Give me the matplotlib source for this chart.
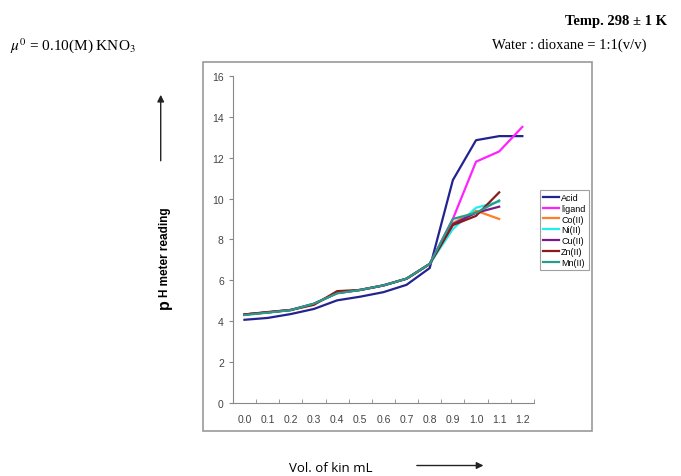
import matplotlib
matplotlib.use("Agg")
from matplotlib import pyplot as plt
from matplotlib.patches import Rectangle

plt.rcParams["font.family"] = ["Liberation Sans", "DejaVu Sans"]
plt.rcParams["mathtext.fontset"] = "stix"

vol = ["0.0", "0.1", "0.2", "0.3", "0.4", "0.5", "0.6", "0.7", "0.8", "0.9", "1.0", "1.1", "1.2"]

acid = [4.07, 4.16, 4.35, 4.6, 5.02, 5.2, 5.42, 5.78, 6.6, 10.9, 12.85, 13.05, 13.05]
ligand = [4.33, 4.43, 4.55, 4.85, 5.38, 5.53, 5.75, 6.08, 6.8, 9.0, 11.8, 12.3, 13.5]
co = [4.33, 4.43, 4.55, 4.85, 5.38, 5.53, 5.75, 6.08, 6.8, 8.8, 9.4, 9.0]
ni = [4.33, 4.43, 4.55, 4.85, 5.38, 5.53, 5.75, 6.08, 6.8, 8.5, 9.55, 9.85]
cu = [4.33, 4.43, 4.55, 4.85, 5.38, 5.53, 5.75, 6.08, 6.8, 8.75, 9.3, 9.6]
zn = [4.33, 4.45, 4.55, 4.8, 5.47, 5.53, 5.75, 6.08, 6.8, 8.7, 9.15, 10.3]
mn = [4.3, 4.42, 4.54, 4.86, 5.36, 5.53, 5.75, 6.08, 6.8, 9.0, 9.3, 9.9]

series = [("Acid", acid, "#232390"),
          ("ligand", ligand, "#ff22ff"),
          ("Co(II)", co, "#ff7f27"),
          ("Ni(II)", ni, "#22eeee"),
          ("Cu(II)", cu, "#7a1a8a"),
          ("Zn(II)", zn, "#8b1a1a"),
          ("Mn(II)", mn, "#2a9a8a")]

fig = plt.figure(figsize=(6.81, 4.77), dpi=100)
fig.patches.append(Rectangle((0.298, 0.094), 0.571, 0.774, transform=fig.transFigure,
                             fill=False, edgecolor="#999999", lw=1.2))

ax = fig.add_axes([0.342, 0.153, 0.442, 0.686])
x = list(range(len(vol)))
for name, vals, col in series:
    ax.plot(x[:len(vals)], vals, color=col, lw=1.6, label=name)

ax.set_xlim(-0.5, len(vol) - 0.5)
ax.set_ylim(0, 16)
ax.set_yticks(range(0, 17, 2))
ax.set_xticks(x)
ax.set_xticklabels(vol)
ax.set_xticks([i - 0.5 for i in range(len(vol) + 1)], minor=True)
ax.tick_params(axis="x", which="major", length=0, pad=8)
ax.tick_params(axis="x", which="minor", length=3, direction="in", color="#888888")
ax.tick_params(axis="y", length=3, color="#888888")
ax.tick_params(labelsize=7.5, labelcolor="#444444")
for s in ["top", "right"]:
    ax.spines[s].set_visible(False)
for s in ["left", "bottom"]:
    ax.spines[s].set_color("#888888")

leg = ax.legend(loc="upper left", bbox_to_anchor=(0.793, 0.600), bbox_transform=fig.transFigure,
                fontsize=6.5, frameon=True, fancybox=False, handlelength=1.8, handletextpad=0.2,
                labelspacing=0.2, borderpad=0.35, borderaxespad=0)
leg.get_frame().set_edgecolor("#888888")
leg.get_frame().set_linewidth(0.8)

fig.text(0.015, 0.905, r"$\mu^0$ = 0.10(M) KNO$_3$", fontsize=11, family="Liberation Serif",
         va="center")
fig.text(0.98, 0.955, "Temp. 298 ± 1 K", fontsize=10.5, family="Liberation Serif",
         fontweight="bold", ha="right", va="center")
fig.text(0.95, 0.905, "Water : dioxane = 1:1(v/v)", fontsize=10.5, family="Liberation Serif",
         ha="right", va="center")

fig.text(0.241, 0.352, "p", fontsize=11.5, fontweight="bold", rotation=90, ha="center", va="bottom")
fig.text(0.243, 0.377, "H meter reading", fontsize=8.5, fontweight="bold", rotation=90,
         ha="center", va="bottom")
ax.annotate("", xy=(0.236, 0.805), xytext=(0.236, 0.655), xycoords="figure fraction",
            textcoords="figure fraction",
            arrowprops=dict(arrowstyle="-|>", color="#222222", lw=1, mutation_scale=10))

fig.text(0.425, 0.018, "Vol. of kin mL", fontsize=9.5, family="Open Sans", va="center")
ax.annotate("", xy=(0.714, 0.022), xytext=(0.608, 0.022), xycoords="figure fraction",
            textcoords="figure fraction",
            arrowprops=dict(arrowstyle="-|>", color="#222222", lw=1, mutation_scale=10))

fig.savefig("out.png", dpi=100)
